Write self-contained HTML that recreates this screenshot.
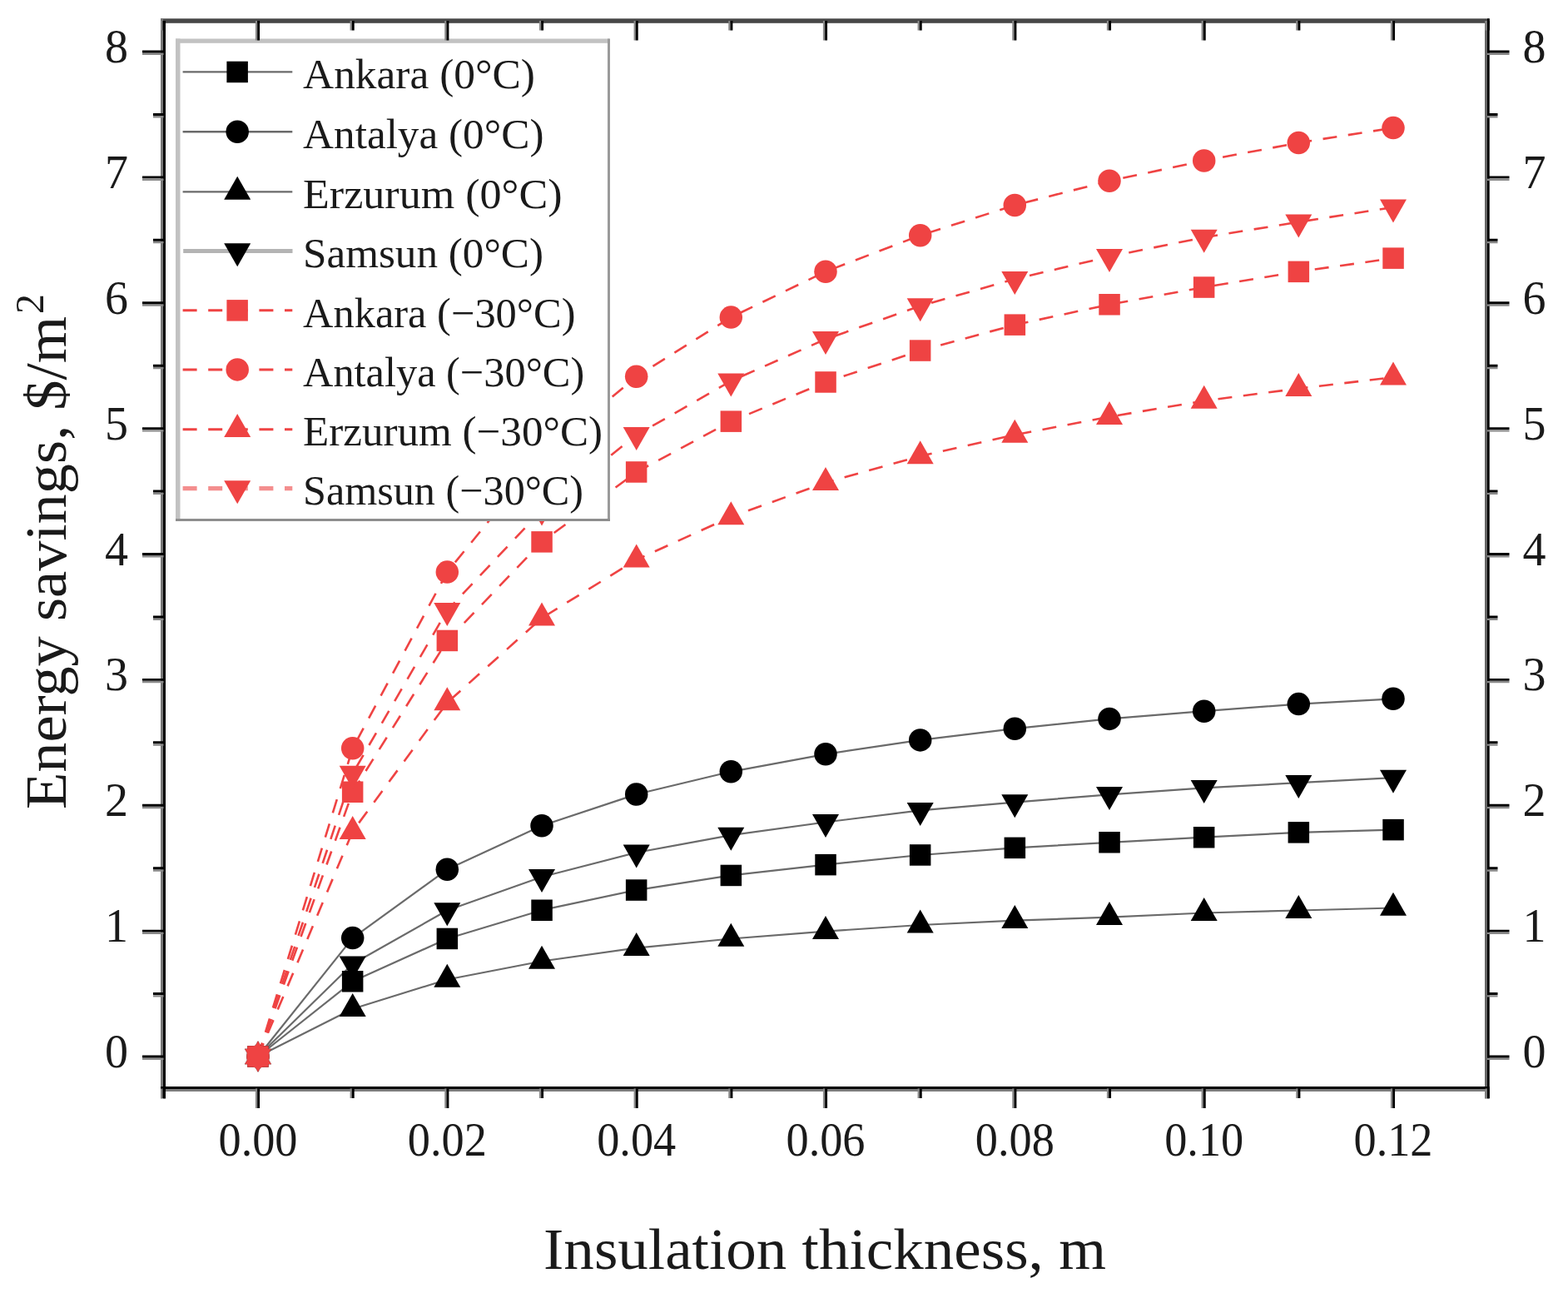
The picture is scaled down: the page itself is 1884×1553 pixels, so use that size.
<!DOCTYPE html>
<html><head><meta charset="utf-8"><title>Energy savings vs insulation thickness</title>
<style>
html,body{margin:0;padding:0;background:#fff;}
body{width:1884px;height:1553px;overflow:hidden;}
svg{display:block;}
text{font-family:"Liberation Serif","DejaVu Serif",serif;fill:#1a1a1a;}
</style></head><body>
<svg width="1884" height="1553" viewBox="0 0 1884 1553">
<rect x="0" y="0" width="1884" height="1553" fill="#fff"/>

<g fill="none" stroke-linejoin="round">
<polyline points="310.0,1269.0 423.7,1178.8 537.3,1127.5 651.0,1093.2 764.7,1069.1 878.3,1051.4 992.0,1038.6 1105.7,1027.0 1219.3,1018.4 1333.0,1011.8 1446.7,1005.7 1560.3,999.8 1674.0,996.7" stroke="#6a6a6a" stroke-width="2.2"/>
<polyline points="310.0,1269.0 423.7,1126.6 537.3,1044.3 651.0,991.7 764.7,954.0 878.3,926.8 992.0,905.8 1105.7,888.9 1219.3,875.2 1333.0,863.4 1446.7,854.2 1560.3,845.6 1674.0,839.3" stroke="#6a6a6a" stroke-width="2.2"/>
<polyline points="310.0,1269.0 423.7,1211.7 537.3,1176.5 651.0,1154.5 764.7,1138.6 878.3,1127.5 992.0,1118.6 1105.7,1111.0 1219.3,1105.6 1333.0,1101.7 1446.7,1096.5 1560.3,1093.5 1674.0,1090.5" stroke="#6a6a6a" stroke-width="2.2"/>
<polyline points="310.0,1269.0 423.7,1157.8 537.3,1093.5 651.0,1053.2 764.7,1024.0 878.3,1003.2 992.0,987.5 1105.7,973.3 1219.3,963.6 1333.0,954.3 1446.7,946.4 1560.3,940.2 1674.0,934.1" stroke="#6a6a6a" stroke-width="2.2"/>
<polyline points="310.0,1269.0 423.7,951.3 537.3,769.5 651.0,650.9 764.7,567.0 878.3,506.2 992.0,459.0 1105.7,421.1 1219.3,390.2 1333.0,365.7 1446.7,345.0 1560.3,326.3 1674.0,310.2" stroke="#ef4343" stroke-width="2.6" stroke-dasharray="17 13.6"/>
<polyline points="310.0,1269.0 423.7,898.8 537.3,687.1 651.0,547.8 764.7,452.2 878.3,381.1 992.0,326.2 1105.7,282.7 1219.3,246.5 1333.0,217.3 1446.7,193.0 1560.3,171.5 1674.0,153.6" stroke="#ef4343" stroke-width="2.6" stroke-dasharray="17 13.6"/>
<polyline points="310.0,1269.0 423.7,998.6 537.3,844.0 651.0,742.3 764.7,672.3 878.3,620.8 992.0,579.7 1105.7,547.8 1219.3,522.3 1333.0,500.6 1446.7,481.4 1560.3,466.6 1674.0,453.2" stroke="#ef4343" stroke-width="2.6" stroke-dasharray="17 13.6"/>
<polyline points="310.0,1269.0 423.7,929.1 537.3,733.2 651.0,612.7 764.7,522.5 878.3,457.7 992.0,407.4 1105.7,367.5 1219.3,335.2 1333.0,308.2 1446.7,285.1 1560.3,266.7 1674.0,248.9" stroke="#ef4343" stroke-width="2.6" stroke-dasharray="17 13.6"/>
</g>
<g>
<rect x="297.2" y="1256.2" width="25.5" height="25.5" fill="#000"/>
<rect x="410.9" y="1166.0" width="25.5" height="25.5" fill="#000"/>
<rect x="524.6" y="1114.7" width="25.5" height="25.5" fill="#000"/>
<rect x="638.3" y="1080.5" width="25.5" height="25.5" fill="#000"/>
<rect x="751.9" y="1056.3" width="25.5" height="25.5" fill="#000"/>
<rect x="865.6" y="1038.7" width="25.5" height="25.5" fill="#000"/>
<rect x="979.3" y="1025.9" width="25.5" height="25.5" fill="#000"/>
<rect x="1092.9" y="1014.2" width="25.5" height="25.5" fill="#000"/>
<rect x="1206.6" y="1005.6" width="25.5" height="25.5" fill="#000"/>
<rect x="1320.3" y="999.0" width="25.5" height="25.5" fill="#000"/>
<rect x="1433.9" y="993.0" width="25.5" height="25.5" fill="#000"/>
<rect x="1547.6" y="987.1" width="25.5" height="25.5" fill="#000"/>
<rect x="1661.3" y="983.9" width="25.5" height="25.5" fill="#000"/>
<circle cx="310.0" cy="1269.0" r="13.75" fill="#000"/>
<circle cx="423.7" cy="1126.6" r="13.75" fill="#000"/>
<circle cx="537.3" cy="1044.3" r="13.75" fill="#000"/>
<circle cx="651.0" cy="991.7" r="13.75" fill="#000"/>
<circle cx="764.7" cy="954.0" r="13.75" fill="#000"/>
<circle cx="878.3" cy="926.8" r="13.75" fill="#000"/>
<circle cx="992.0" cy="905.8" r="13.75" fill="#000"/>
<circle cx="1105.7" cy="888.9" r="13.75" fill="#000"/>
<circle cx="1219.3" cy="875.2" r="13.75" fill="#000"/>
<circle cx="1333.0" cy="863.4" r="13.75" fill="#000"/>
<circle cx="1446.7" cy="854.2" r="13.75" fill="#000"/>
<circle cx="1560.3" cy="845.6" r="13.75" fill="#000"/>
<circle cx="1674.0" cy="839.3" r="13.75" fill="#000"/>
<polygon points="310.0,1250.3 326.0,1278.3 294.0,1278.3" fill="#000"/>
<polygon points="423.7,1193.0 439.7,1221.0 407.7,1221.0" fill="#000"/>
<polygon points="537.3,1157.8 553.3,1185.8 521.3,1185.8" fill="#000"/>
<polygon points="651.0,1135.8 667.0,1163.8 635.0,1163.8" fill="#000"/>
<polygon points="764.7,1120.0 780.7,1148.0 748.7,1148.0" fill="#000"/>
<polygon points="878.3,1108.8 894.3,1136.8 862.3,1136.8" fill="#000"/>
<polygon points="992.0,1099.9 1008.0,1127.9 976.0,1127.9" fill="#000"/>
<polygon points="1105.7,1092.4 1121.7,1120.4 1089.7,1120.4" fill="#000"/>
<polygon points="1219.3,1086.9 1235.3,1114.9 1203.3,1114.9" fill="#000"/>
<polygon points="1333.0,1083.0 1349.0,1111.0 1317.0,1111.0" fill="#000"/>
<polygon points="1446.7,1077.9 1462.7,1105.9 1430.7,1105.9" fill="#000"/>
<polygon points="1560.3,1074.9 1576.3,1102.9 1544.3,1102.9" fill="#000"/>
<polygon points="1674.0,1071.8 1690.0,1099.8 1658.0,1099.8" fill="#000"/>
<polygon points="294.0,1259.7 326.0,1259.7 310.0,1287.7" fill="#000"/>
<polygon points="407.7,1148.5 439.7,1148.5 423.7,1176.5" fill="#000"/>
<polygon points="521.3,1084.2 553.3,1084.2 537.3,1112.2" fill="#000"/>
<polygon points="635.0,1043.9 667.0,1043.9 651.0,1071.9" fill="#000"/>
<polygon points="748.7,1014.6 780.7,1014.6 764.7,1042.6" fill="#000"/>
<polygon points="862.3,993.8 894.3,993.8 878.3,1021.8" fill="#000"/>
<polygon points="976.0,978.1 1008.0,978.1 992.0,1006.1" fill="#000"/>
<polygon points="1089.7,964.0 1121.7,964.0 1105.7,992.0" fill="#000"/>
<polygon points="1203.3,954.3 1235.3,954.3 1219.3,982.3" fill="#000"/>
<polygon points="1317.0,944.9 1349.0,944.9 1333.0,972.9" fill="#000"/>
<polygon points="1430.7,937.1 1462.7,937.1 1446.7,965.1" fill="#000"/>
<polygon points="1544.3,930.9 1576.3,930.9 1560.3,958.9" fill="#000"/>
<polygon points="1658.0,924.7 1690.0,924.7 1674.0,952.7" fill="#000"/>
<rect x="297.2" y="1256.2" width="25.5" height="25.5" fill="#ef4343"/>
<rect x="410.9" y="938.5" width="25.5" height="25.5" fill="#ef4343"/>
<rect x="524.6" y="756.7" width="25.5" height="25.5" fill="#ef4343"/>
<rect x="638.3" y="638.1" width="25.5" height="25.5" fill="#ef4343"/>
<rect x="751.9" y="554.2" width="25.5" height="25.5" fill="#ef4343"/>
<rect x="865.6" y="493.4" width="25.5" height="25.5" fill="#ef4343"/>
<rect x="979.3" y="446.2" width="25.5" height="25.5" fill="#ef4343"/>
<rect x="1092.9" y="408.3" width="25.5" height="25.5" fill="#ef4343"/>
<rect x="1206.6" y="377.4" width="25.5" height="25.5" fill="#ef4343"/>
<rect x="1320.3" y="353.0" width="25.5" height="25.5" fill="#ef4343"/>
<rect x="1433.9" y="332.3" width="25.5" height="25.5" fill="#ef4343"/>
<rect x="1547.6" y="313.6" width="25.5" height="25.5" fill="#ef4343"/>
<rect x="1661.3" y="297.4" width="25.5" height="25.5" fill="#ef4343"/>
<circle cx="310.0" cy="1269.0" r="13.75" fill="#ef4343"/>
<circle cx="423.7" cy="898.8" r="13.75" fill="#ef4343"/>
<circle cx="537.3" cy="687.1" r="13.75" fill="#ef4343"/>
<circle cx="651.0" cy="547.8" r="13.75" fill="#ef4343"/>
<circle cx="764.7" cy="452.2" r="13.75" fill="#ef4343"/>
<circle cx="878.3" cy="381.1" r="13.75" fill="#ef4343"/>
<circle cx="992.0" cy="326.2" r="13.75" fill="#ef4343"/>
<circle cx="1105.7" cy="282.7" r="13.75" fill="#ef4343"/>
<circle cx="1219.3" cy="246.5" r="13.75" fill="#ef4343"/>
<circle cx="1333.0" cy="217.3" r="13.75" fill="#ef4343"/>
<circle cx="1446.7" cy="193.0" r="13.75" fill="#ef4343"/>
<circle cx="1560.3" cy="171.5" r="13.75" fill="#ef4343"/>
<circle cx="1674.0" cy="153.6" r="13.75" fill="#ef4343"/>
<polygon points="310.0,1250.3 326.0,1278.3 294.0,1278.3" fill="#ef4343"/>
<polygon points="423.7,980.0 439.7,1008.0 407.7,1008.0" fill="#ef4343"/>
<polygon points="537.3,825.3 553.3,853.3 521.3,853.3" fill="#ef4343"/>
<polygon points="651.0,723.6 667.0,751.6 635.0,751.6" fill="#ef4343"/>
<polygon points="764.7,653.6 780.7,681.6 748.7,681.6" fill="#ef4343"/>
<polygon points="878.3,602.2 894.3,630.2 862.3,630.2" fill="#ef4343"/>
<polygon points="992.0,561.0 1008.0,589.0 976.0,589.0" fill="#ef4343"/>
<polygon points="1105.7,529.2 1121.7,557.2 1089.7,557.2" fill="#ef4343"/>
<polygon points="1219.3,503.7 1235.3,531.7 1203.3,531.7" fill="#ef4343"/>
<polygon points="1333.0,481.9 1349.0,509.9 1317.0,509.9" fill="#ef4343"/>
<polygon points="1446.7,462.8 1462.7,490.8 1430.7,490.8" fill="#ef4343"/>
<polygon points="1560.3,448.0 1576.3,476.0 1544.3,476.0" fill="#ef4343"/>
<polygon points="1674.0,434.6 1690.0,462.6 1658.0,462.6" fill="#ef4343"/>
<polygon points="294.0,1259.7 326.0,1259.7 310.0,1287.7" fill="#ef4343"/>
<polygon points="407.7,919.7 439.7,919.7 423.7,947.7" fill="#ef4343"/>
<polygon points="521.3,723.9 553.3,723.9 537.3,751.9" fill="#ef4343"/>
<polygon points="635.0,603.4 667.0,603.4 651.0,631.4" fill="#ef4343"/>
<polygon points="748.7,513.1 780.7,513.1 764.7,541.1" fill="#ef4343"/>
<polygon points="862.3,448.4 894.3,448.4 878.3,476.4" fill="#ef4343"/>
<polygon points="976.0,398.0 1008.0,398.0 992.0,426.0" fill="#ef4343"/>
<polygon points="1089.7,358.2 1121.7,358.2 1105.7,386.2" fill="#ef4343"/>
<polygon points="1203.3,325.9 1235.3,325.9 1219.3,353.9" fill="#ef4343"/>
<polygon points="1317.0,298.9 1349.0,298.9 1333.0,326.9" fill="#ef4343"/>
<polygon points="1430.7,275.8 1462.7,275.8 1446.7,303.8" fill="#ef4343"/>
<polygon points="1544.3,257.4 1576.3,257.4 1560.3,285.4" fill="#ef4343"/>
<polygon points="1658.0,239.6 1690.0,239.6 1674.0,267.6" fill="#ef4343"/>
</g>
<rect x="213.5" y="49" width="518" height="575.5" fill="#fff"/>
<rect x="211" y="46.5" width="5.5" height="579" fill="#c2c2c2"/>
<rect x="211" y="46.5" width="521.5" height="5.3" fill="#c2c2c2"/>
<rect x="730" y="46.5" width="3" height="579.5" fill="#9a9a9a"/>
<rect x="211" y="623" width="522" height="3" fill="#8e8e8e"/>
<line x1="219.6" y1="86.4" x2="351.3" y2="86.4" stroke="#6a6a6a" stroke-width="2.4"/>
<rect x="272.4" y="73.7" width="25.5" height="25.5" fill="#000"/>
<text x="364" y="106.1" font-size="50.5" textLength="279" lengthAdjust="spacingAndGlyphs">Ankara (0°C)</text>
<line x1="219.6" y1="158.2" x2="351.3" y2="158.2" stroke="#6a6a6a" stroke-width="2.4"/>
<circle cx="285.2" cy="158.2" r="13.75" fill="#000"/>
<text x="364" y="177.9" font-size="50.5" textLength="289.5" lengthAdjust="spacingAndGlyphs">Antalya (0°C)</text>
<line x1="219.6" y1="230.4" x2="351.3" y2="230.4" stroke="#6a6a6a" stroke-width="2.4"/>
<polygon points="285.2,211.7 301.2,239.7 269.2,239.7" fill="#000"/>
<text x="364" y="250.1" font-size="50.5" textLength="311.5" lengthAdjust="spacingAndGlyphs">Erzurum (0°C)</text>
<line x1="220.2" y1="301.6" x2="351.5" y2="301.6" stroke="#b4b4b4" stroke-width="5"/>
<polygon points="269.2,292.3 301.2,292.3 285.2,320.3" fill="#000"/>
<text x="364" y="321.3" font-size="50.5" textLength="289" lengthAdjust="spacingAndGlyphs">Samsun (0°C)</text>
<line x1="219.6" y1="372.8" x2="351.3" y2="372.8" stroke="#ef4343" stroke-width="3" stroke-dasharray="17 13.6"/>
<rect x="272.4" y="360.1" width="25.5" height="25.5" fill="#ef4343"/>
<text x="364" y="392.5" font-size="50.5" textLength="327.5" lengthAdjust="spacingAndGlyphs">Ankara (−30°C)</text>
<line x1="219.6" y1="443.9" x2="351.3" y2="443.9" stroke="#ef4343" stroke-width="3" stroke-dasharray="17 13.6"/>
<circle cx="285.2" cy="443.9" r="13.75" fill="#ef4343"/>
<text x="364" y="463.6" font-size="50.5" textLength="338.2" lengthAdjust="spacingAndGlyphs">Antalya (−30°C)</text>
<line x1="219.6" y1="515.7" x2="351.3" y2="515.7" stroke="#ef4343" stroke-width="3" stroke-dasharray="17 13.6"/>
<polygon points="285.2,497.0 301.2,525.0 269.2,525.0" fill="#ef4343"/>
<text x="364" y="535.4" font-size="50.5" textLength="360" lengthAdjust="spacingAndGlyphs">Erzurum (−30°C)</text>
<line x1="219.6" y1="586.6" x2="351.3" y2="586.6" stroke="#f48e8e" stroke-width="5.4" stroke-dasharray="17 13.6"/>
<polygon points="269.2,577.3 301.2,577.3 285.2,605.3" fill="#ef4343"/>
<text x="364" y="606.3" font-size="50.5" textLength="337" lengthAdjust="spacingAndGlyphs">Samsun (−30°C)</text>
<g stroke-linecap="butt">
<rect x="193" y="22.3" width="1596.6" height="5.5" fill="#474747"/>
<rect x="193" y="22.3" width="3" height="1297.2" fill="#777"/>
<rect x="196" y="25" width="3" height="1294.5" fill="#000"/>
<rect x="1784" y="25" width="3.1" height="1294.5" fill="#666"/>
<rect x="1787" y="22.3" width="2.7" height="1297.2" fill="#000"/>
<rect x="193" y="1305" width="1596.6" height="3" fill="#000"/>
<rect x="199" y="1308" width="1585.5" height="3" fill="#7d7d7d"/>
<path d="M171.0,1271.80H196.5M1787.0,1271.80H1813.5M184.0,1196.36H196.5M1787.0,1196.36H1799.5M171.0,1120.92H196.5M1787.0,1120.92H1813.5M184.0,1045.49H196.5M1787.0,1045.49H1799.5M171.0,970.05H196.5M1787.0,970.05H1813.5M184.0,894.61H196.5M1787.0,894.61H1799.5M171.0,819.17H196.5M1787.0,819.17H1813.5M184.0,743.74H196.5M1787.0,743.74H1799.5M171.0,668.30H196.5M1787.0,668.30H1813.5M184.0,592.86H196.5M1787.0,592.86H1799.5M171.0,517.42H196.5M1787.0,517.42H1813.5M184.0,441.99H196.5M1787.0,441.99H1799.5M171.0,366.55H196.5M1787.0,366.55H1813.5M184.0,291.11H196.5M1787.0,291.11H1799.5M171.0,215.68H196.5M1787.0,215.68H1813.5M184.0,140.24H196.5M1787.0,140.24H1799.5M171.0,64.80H196.5M1787.0,64.80H1813.5M194.43,1307.5V1319.0M194.43,25.0V36.5M308.10,1307.5V1331.0M308.10,25.0V48.5M421.77,1307.5V1319.0M421.77,25.0V36.5M535.43,1307.5V1331.0M535.43,25.0V48.5M649.10,1307.5V1319.0M649.10,25.0V36.5M762.77,1307.5V1331.0M762.77,25.0V48.5M876.44,1307.5V1319.0M876.44,25.0V36.5M990.10,1307.5V1331.0M990.10,25.0V48.5M1103.77,1307.5V1319.0M1103.77,25.0V36.5M1217.44,1307.5V1331.0M1217.44,25.0V48.5M1331.10,1307.5V1319.0M1331.10,25.0V36.5M1444.77,1307.5V1331.0M1444.77,25.0V48.5M1558.44,1307.5V1319.0M1558.44,25.0V36.5M1672.10,1307.5V1331.0M1672.10,25.0V48.5M1785.77,1307.5V1319.0M1785.77,25.0V36.5" stroke="#8a8a8a" stroke-width="2.4" fill="none"/>
<path d="M171.0,1269.00H196.5M1787.0,1269.00H1813.5M184.0,1193.56H196.5M1787.0,1193.56H1799.5M171.0,1118.12H196.5M1787.0,1118.12H1813.5M184.0,1042.69H196.5M1787.0,1042.69H1799.5M171.0,967.25H196.5M1787.0,967.25H1813.5M184.0,891.81H196.5M1787.0,891.81H1799.5M171.0,816.38H196.5M1787.0,816.38H1813.5M184.0,740.94H196.5M1787.0,740.94H1799.5M171.0,665.50H196.5M1787.0,665.50H1813.5M184.0,590.06H196.5M1787.0,590.06H1799.5M171.0,514.62H196.5M1787.0,514.62H1813.5M184.0,439.19H196.5M1787.0,439.19H1799.5M171.0,363.75H196.5M1787.0,363.75H1813.5M184.0,288.31H196.5M1787.0,288.31H1799.5M171.0,212.88H196.5M1787.0,212.88H1813.5M184.0,137.44H196.5M1787.0,137.44H1799.5M171.0,62.00H196.5M1787.0,62.00H1813.5M196.93,1307.5V1319.0M196.93,25.0V36.5M310.60,1307.5V1331.0M310.60,25.0V48.5M424.27,1307.5V1319.0M424.27,25.0V36.5M537.93,1307.5V1331.0M537.93,25.0V48.5M651.60,1307.5V1319.0M651.60,25.0V36.5M765.27,1307.5V1331.0M765.27,25.0V48.5M878.94,1307.5V1319.0M878.94,25.0V36.5M992.60,1307.5V1331.0M992.60,25.0V48.5M1106.27,1307.5V1319.0M1106.27,25.0V36.5M1219.94,1307.5V1331.0M1219.94,25.0V48.5M1333.60,1307.5V1319.0M1333.60,25.0V36.5M1447.27,1307.5V1331.0M1447.27,25.0V48.5M1560.94,1307.5V1319.0M1560.94,25.0V36.5M1674.60,1307.5V1331.0M1674.60,25.0V48.5M1788.27,1307.5V1319.0M1788.27,25.0V36.5" stroke="#000" stroke-width="2.9" fill="none"/>
</g>
<g font-size="56">
<text x="154" y="1282.0" text-anchor="end">0</text>
<text x="1829.5" y="1282.0">0</text>
<text x="154" y="1131.1" text-anchor="end">1</text>
<text x="1829.5" y="1131.1">1</text>
<text x="154" y="980.2" text-anchor="end">2</text>
<text x="1829.5" y="980.2">2</text>
<text x="154" y="829.4" text-anchor="end">3</text>
<text x="1829.5" y="829.4">3</text>
<text x="154" y="678.5" text-anchor="end">4</text>
<text x="1829.5" y="678.5">4</text>
<text x="154" y="527.6" text-anchor="end">5</text>
<text x="1829.5" y="527.6">5</text>
<text x="154" y="376.8" text-anchor="end">6</text>
<text x="1829.5" y="376.8">6</text>
<text x="154" y="225.9" text-anchor="end">7</text>
<text x="1829.5" y="225.9">7</text>
<text x="154" y="75.0" text-anchor="end">8</text>
<text x="1829.5" y="75.0">8</text>
<text x="310.0" y="1388" text-anchor="middle" textLength="95" lengthAdjust="spacingAndGlyphs">0.00</text>
<text x="537.3" y="1388" text-anchor="middle" textLength="95" lengthAdjust="spacingAndGlyphs">0.02</text>
<text x="764.7" y="1388" text-anchor="middle" textLength="95" lengthAdjust="spacingAndGlyphs">0.04</text>
<text x="992.0" y="1388" text-anchor="middle" textLength="95" lengthAdjust="spacingAndGlyphs">0.06</text>
<text x="1219.3" y="1388" text-anchor="middle" textLength="95" lengthAdjust="spacingAndGlyphs">0.08</text>
<text x="1446.7" y="1388" text-anchor="middle" textLength="95" lengthAdjust="spacingAndGlyphs">0.10</text>
<text x="1674.0" y="1388" text-anchor="middle" textLength="95" lengthAdjust="spacingAndGlyphs">0.12</text>
</g>
<text x="653" y="1524" font-size="70" textLength="676" lengthAdjust="spacingAndGlyphs">Insulation thickness, m</text>
<g transform="translate(78.5,972) rotate(-90)"><text x="0" y="0" font-size="69" textLength="592" lengthAdjust="spacingAndGlyphs">Energy savings, $/m</text><text x="595" y="-27" font-size="48">2</text></g>
</svg></body></html>
